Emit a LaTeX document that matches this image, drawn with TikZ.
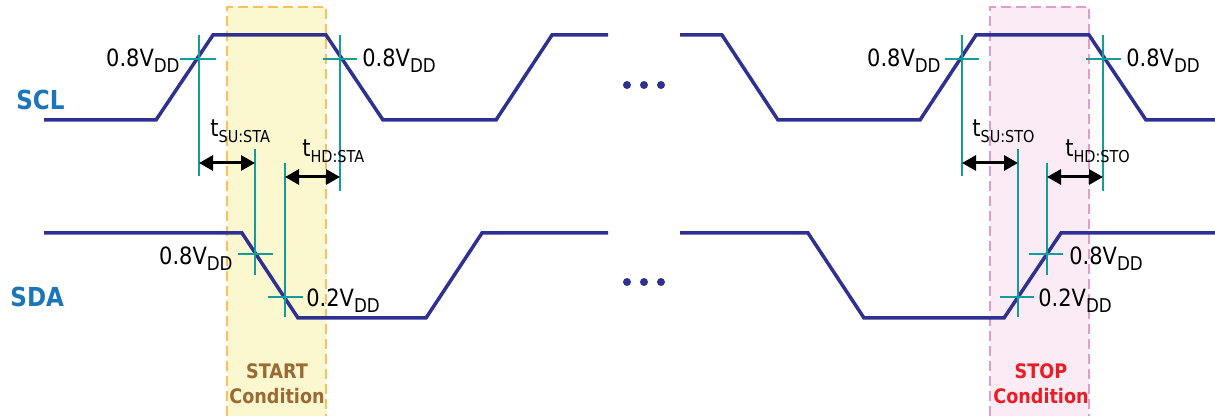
\documentclass[tikz,border=0pt]{standalone}
\usepackage{fontspec}
\setmainfont{DejaVu Sans}[FakeStretch=0.88]
\usetikzlibrary{arrows.meta}
\definecolor{wavec}{RGB}{46,49,146}
\definecolor{tealc}{RGB}{20,155,155}
\definecolor{sigblue}{RGB}{27,117,187}
\definecolor{startfill}{RGB}{251,247,206}
\definecolor{startdash}{RGB}{250,192,95}
\definecolor{stopfill}{RGB}{251,235,244}
\definecolor{stopdash}{RGB}{226,155,205}
\definecolor{startbrown}{RGB}{155,105,50}
\definecolor{stopred}{RGB}{237,28,36}
\newcommand{\lowsub}[2]{\raisebox{-0.42ex}{\fontsize{#1}{#1}\selectfont #2}}
\newcommand{\vdd}[1]{#1V\lowsub{9.5}{DD}}
\newcommand{\tlab}[1]{t\lowsub{8.2}{#1}}

\begin{document}
\begin{tikzpicture}[x=0.5pt, y=-0.5pt,
	wave/.style={draw=wavec, line width=1.75pt},
	guide/.style={draw=tealc, line width=0.8pt},
	timing/.style={{Triangle[length=7pt,width=7.5pt]}-{Triangle[length=7pt,width=7.5pt]}, line width=1.5pt},
	level/.style={inner sep=0pt, font=\fontsize{11.9}{13}\selectfont},
	signame/.style={inner sep=0pt, text=sigblue, font=\fontsize{13.1}{14}\selectfont\bfseries},
	condname/.style={inner sep=0pt, align=center, font=\fontsize{10}{12.5}\selectfont\bfseries},
	dots/.style={fill=wavec}]
		\useasboundingbox (0,0) rectangle (1215,416);
		%%%%%%%%%%%%% condition bands
		\fill[startfill] (227,7) rectangle (326,416);
		\draw[startdash, line width=0.75pt, dash pattern=on 5pt off 2.5pt] (227,416) -- (227,7) -- (326,7) -- (326,416);
		\fill[stopfill] (990,7) rectangle (1089,416);
		\draw[stopdash, line width=0.75pt, dash pattern=on 5pt off 2.5pt] (990,416) -- (990,7) -- (1089,7) -- (1089,416);
		%%%%%%%%%%%%% waveforms
		\draw[wave] (44,120) -- (156,120) -- (213,35) -- (326,35) -- (383,120) -- (496,120) -- (552,35) -- (608,35);
		\draw[wave] (680,35) -- (722,35) -- (778,120) -- (920,120) -- (976,35) -- (1089,35) -- (1146,120) -- (1215,120);
		\draw[wave] (44,233) -- (242,233) -- (298,318) -- (426,318) -- (482,233) -- (608,233);
		\draw[wave] (680,233) -- (808,233) -- (864,318) -- (1004,318) -- (1061,233) -- (1215,233);
		\fill[dots] (627,85) circle (4) (644,85) circle (4) (661,85) circle (4);
		\fill[dots] (627,282) circle (4) (644,282) circle (4) (661,282) circle (4);
		%%%%%%%%%%%%% start guides
		\draw[guide] (199,35) -- (199,176); \draw[guide] (180,59) -- (216,59);
		\draw[guide] (255,149) -- (255,275); \draw[guide] (238,254) -- (273,254);
		\draw[guide] (285,163) -- (285,317); \draw[guide] (268,297) -- (303,297);
		\draw[guide] (340,35) -- (340,191); \draw[guide] (323,59) -- (357,59);
		%%%%%%%%%%%%% stop guides
		\draw[guide] (962,35) -- (962,176); \draw[guide] (945,59) -- (979,59);
		\draw[guide] (1018,149) -- (1018,317); \draw[guide] (1000,297) -- (1034,297);
		\draw[guide] (1047,163) -- (1047,275); \draw[guide] (1029,254) -- (1063,254);
		\draw[guide] (1103,35) -- (1103,191); \draw[guide] (1086,59) -- (1121,59);
		%%%%%%%%%%%%% timing arrows
		\coordinate (susta1) at (199,163); \coordinate (susta2) at (255,163);
		\coordinate (hdsta1) at (285,177); \coordinate (hdsta2) at (340,177);
		\coordinate (susto1) at (962,163); \coordinate (susto2) at (1018,163);
		\coordinate (hdsto1) at (1047,177); \coordinate (hdsto2) at (1103,177);
		\draw[timing] (susta1) to (susta2); \draw[timing] (hdsta1) to (hdsta2);
		\draw[timing] (susto1) to (susto2); \draw[timing] (hdsto1) to (hdsto2);
		%%%%%%%%%%%%% labels
		\node[signame, anchor=base west] (scl) at (16,110) {SCL};
		\node[signame, anchor=base west] (sda) at (10,307) {SDA};
		\node[level, anchor=base east] (sclrise) at (180,67) {\vdd{0.8}};
		\node[level, anchor=base west] (sclfall) at (362,67) {\vdd{0.8}};
		\node[level, anchor=base east] (sdafall) at (233,265) {\vdd{0.8}};
		\node[level, anchor=base west] (sdalow) at (306,307) {\vdd{0.2}};
		\node[level, anchor=base east] (sclrise2) at (941,67) {\vdd{0.8}};
		\node[level, anchor=base west] (sclfall2) at (1126,67) {\vdd{0.8}};
		\node[level, anchor=base west] (sdalow2) at (1038,307) {\vdd{0.2}};
		\node[level, anchor=base west] (sdahigh2) at (1069,265) {\vdd{0.8}};
		\node[level, anchor=base west] (tsusta) at (210,137) {\tlab{SU:STA}};
		\node[level, anchor=base west] (thdsta) at (302,157) {\tlab{HD:STA}};
		\node[level, anchor=base west] (tsusto) at (972,137) {\tlab{SU:STO}};
		\node[level, anchor=base west] (thdsto) at (1065,157) {\tlab{HD:STO}};
		\node[condname, text=startbrown] (startc) at (277,384) {START\\Condition};
		\node[condname, text=stopred] (stopc) at (1041,384) {STOP\\Condition};
\end{tikzpicture}
\end{document}
